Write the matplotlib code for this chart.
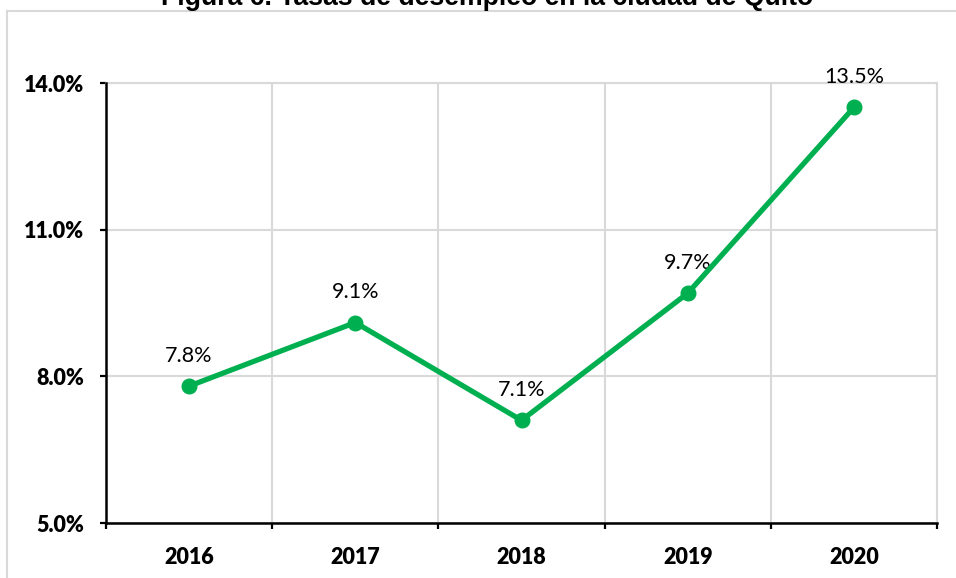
import matplotlib
matplotlib.use("Agg")
import matplotlib.pyplot as plt
from matplotlib.lines import Line2D
import numpy as np

years = ["2016", "2017", "2018", "2019", "2020"]
rates = [7.8, 9.1, 7.1, 9.7, 13.5]
yticks = [5.0, 8.0, 11.0, 14.0]
title = "Figura 6. Tasas de desempleo en la ciudad de Quito"

W, H = 956, 578
fig = plt.figure(figsize=(W / 100, H / 100), dpi=100)
ax = fig.add_axes([106 / W, 1 - 523 / H, (937 - 106) / W, (523 - 83) / H])

x = np.arange(len(years))
green = "#00B050"
ax.plot(x, rates, color=green, lw=3.8, marker="o", ms=10.5, solid_capstyle="round", zorder=5)
for xi, v in zip(x, rates):
    ax.annotate(f"{v:.1f}%", (xi, v), xytext=(0, 22), textcoords="offset points",
                ha="center", va="center", fontsize=15.5, family="Lato", color="#000000")

ax.set_xlim(-0.5, len(years) - 0.5)
ax.set_ylim(5.0, 14.0)
ax.set_yticks(yticks)
ax.set_yticklabels([f"{t:.1f}%" for t in yticks], fontsize=15.5, fontweight="heavy", family="Lato")
ax.set_xticks(x)
ax.set_xticklabels(years, fontsize=15.5, fontweight="heavy", family="Lato")
ax.set_xticks(np.arange(-0.5, len(years), 1.0), minor=True)

ax.tick_params(axis="x", which="major", length=0, pad=17)
ax.tick_params(axis="x", which="minor", length=4.5, width=1.6, direction="out", color="black")
ax.tick_params(axis="y", which="major", length=4.5, width=1.6, direction="out", color="black", pad=11)

ax.grid(True, axis="y", which="major", color="#d9d9d9", lw=1.5)
ax.grid(True, axis="x", which="minor", color="#d9d9d9", lw=1.5)
ax.set_axisbelow(True)

for s in ["top", "right"]:
    ax.spines[s].set_color("#d9d9d9")
    ax.spines[s].set_linewidth(1.5)
for s in ["left", "bottom"]:
    ax.spines[s].set_color("black")
    ax.spines[s].set_linewidth(1.8)
    ax.spines[s].set_zorder(6)

# outer chart frame (top and left visible)
fy = 1 - 10.5 / H
fx = 7 / W
fig.add_artist(Line2D([fx, 1], [fy, fy], transform=fig.transFigure, color="#d9d9d9", lw=1.5))
fig.add_artist(Line2D([fx, fx], [0, fy], transform=fig.transFigure, color="#d9d9d9", lw=1.5))

fig.text(487 / W, 1 - 5 / H, title, ha="center", va="baseline", fontsize=19.2,
         fontweight="bold", family="Liberation Sans")

fig.savefig("out.png", dpi=100)
